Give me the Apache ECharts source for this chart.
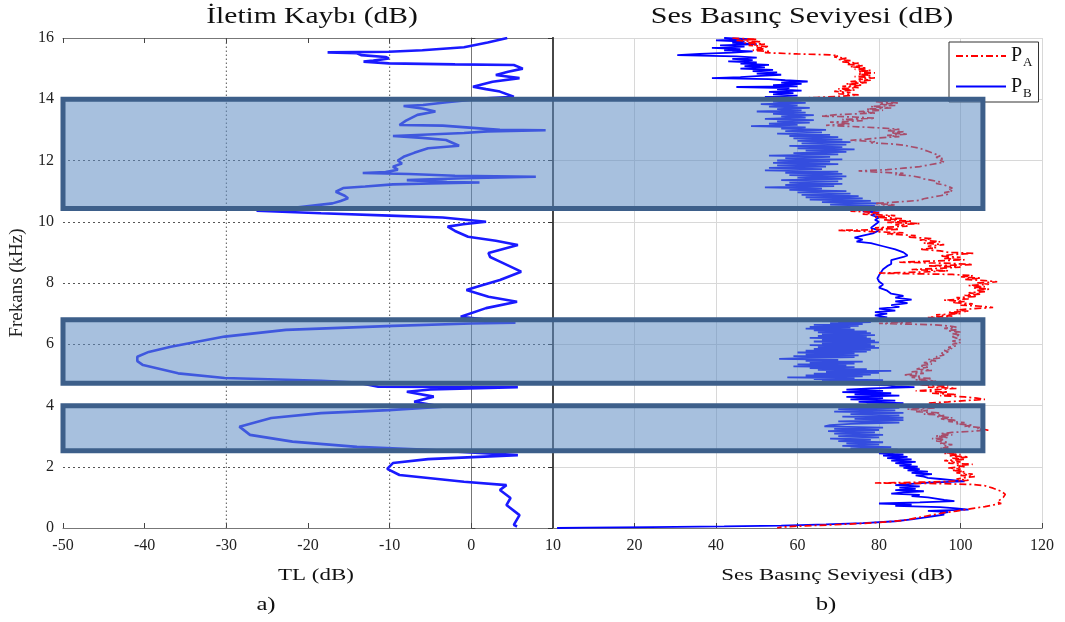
<!DOCTYPE html>
<html>
<head>
<meta charset="utf-8">
<script src="https://cdn.jsdelivr.net/npm/echarts@6/dist/echarts.min.js"></script>
<style>
html,body{margin:0;padding:0;background:#fff;}
#chart{width:1065px;height:622px;}
</style>
</head>
<body>
<div id="chart"></div>
<script>
// ---------------- DATA ----------------
const freqTicks = [0, 2, 4, 6, 8, 10, 12, 14, 16];          // kHz
const tlTicks = [-50, -40, -30, -20, -10, 0, 10];            // dB
const splTicks = [0, 20, 40, 60, 80, 100, 120];               // dB
const tlGridLines = [-30, -10];                               // dotted verticals in panel a
const bandRanges = [[10.43, 14.0], [4.73, 6.8], [2.52, 3.99]]; // highlighted frequency bands (kHz)
const bandRightDb = 105.5;                                    // right end of bands on SPL axis

// Transmission loss: [freq kHz, TL dB]
const tlCurve = [[16.0,4.4],[15.85,2.0],[15.7,-0.9],[15.6,-6],[15.55,-10.1],[15.53,-17.6],[15.5,-14],[15.44,-13.5],[15.38,-10.5],[15.33,-10.1],[15.26,-12],[15.23,-13.2],[15.17,-10.1],[15.14,-2],[15.12,5.2],[15.0,6.3],[14.9,4.5],[14.79,3.0],[14.69,5.9],[14.57,2.6],[14.41,0.2],[14.33,1.8],[14.25,3.5],[14.08,5.2],[14.02,1.3],[13.9,-3],[13.81,-5.9],[13.78,-8.3],[13.7,-6],[13.6,-4.4],[13.49,-6.6],[13.3,-8],[13.16,-8.8],[13.14,-3.5],[13.05,1],[13.0,3.5],[12.99,9.1],[12.95,2],[12.9,-0.9],[12.8,-9.6],[12.74,-6],[12.67,-3.1],[12.48,-1.5],[12.4,-5.3],[12.25,-7],[12.12,-8.3],[12.0,-9],[11.9,-8.5],[11.8,-9.6],[11.7,-9],[11.62,-10.5],[11.59,-13.3],[11.56,-7.6],[11.5,-2],[11.47,7.9],[11.42,-1],[11.36,-7.9],[11.3,-3],[11.28,1.0],[11.25,-5],[11.22,-9.6],[11.15,-13],[11.1,-15.7],[10.98,-16.6],[10.85,-15.5],[10.77,-15.1],[10.68,-16],[10.6,-17.0],[10.45,-22],[10.36,-26.3],[10.28,-18.4],[10.2,-10],[10.14,-3.5],[10.0,1.8],[9.92,-1],[9.84,-2.9],[9.7,-2],[9.51,-0.4],[9.38,3],[9.24,5.7],[8.98,2.1],[8.85,2.3],[8.7,3.5],[8.37,6.1],[8.1,3.5],[7.9,1],[7.77,-0.6],[7.55,2.1],[7.39,5.6],[7.18,1.8],[6.9,-1.3],[6.7,5.4],[6.68,0],[6.6,-9.6],[6.47,-22.7],[6.25,-30.2],[5.92,-36.8],[5.75,-39.5],[5.59,-40.9],[5.45,-40.9],[5.32,-40.2],[5.05,-35.9],[4.9,-30.2],[4.81,-18.4],[4.75,-14],[4.61,-11.4],[4.6,5.7],[4.52,-5],[4.45,-7.9],[4.29,-4.6],[4.12,-7.0],[3.96,-3.5],[3.85,-10.1],[3.75,-18.4],[3.59,-24.5],[3.31,-28.4],[3.04,-27.1],[2.82,-21.9],[2.65,-14.0],[2.55,-5.3],[2.38,5.7],[2.25,-5.3],[2.12,-9.6],[1.93,-10.3],[1.73,-8.8],[1.51,-0.9],[1.4,4.3],[1.24,3.5],[0.98,4.8],[0.75,4.3],[0.42,5.9],[0.1,5.2],[0.05,5.6]];

// P_B (blue): [freq kHz, SPL dB]
const pbCurve = [[16.0,42],[15.96,48],[15.92,40],[15.88,47],[15.84,44],[15.8,50],[15.76,41],[15.72,47],[15.68,39],[15.64,46],[15.6,42],[15.56,49],[15.52,44],[15.48,36],[15.44,30.5],[15.4,45],[15.36,50],[15.32,44],[15.28,49],[15.24,43],[15.2,50],[15.16,46],[15.12,53],[15.08,47],[15.04,52],[15.0,46],[14.96,54],[14.92,49],[14.88,55],[14.84,50],[14.8,56],[14.76,51],[14.72,46],[14.69,39],[14.66,53],[14.62,57],[14.58,62.5],[14.54,56],[14.5,61],[14.46,54],[14.42,60],[14.4,45],[14.36,58],[14.32,55],[14.28,61],[14.24,53],[14.2,59],[14.16,54],[14.12,60],[14.08,52],[14.04,57],
[14.0,52],[13.96,61],[13.92,54],[13.88,62],[13.84,51],[13.8,60],[13.76,53],[13.72,63],[13.68,55],[13.64,61],[13.6,50],[13.56,62],[13.52,54],[13.48,64],[13.44,56],[13.4,62],[13.36,52],[13.32,64],[13.28,55],[13.24,63],[13.2,53],[13.16,60],[13.12,48.6],[13.08,62],[13.04,56],[13.0,67],[12.96,57],[12.92,66],[12.88,55],[12.84,68],[12.8,58],[12.76,70],[12.72,59],[12.68,71],[12.64,60],[12.6,73],[12.56,61],[12.52,72],[12.48,58],[12.44,71],[12.4,60],[12.36,74],[12.32,62],[12.28,72],[12.24,59],[12.2,70],[12.16,53],[12.12,68],[12.08,57],[12.04,71],[12.0,55],[11.96,68],[11.92,54],[11.88,70],[11.84,55],[11.8,67],[11.76,53],[11.72,66],[11.68,52],[11.64,70],[11.6,57],[11.56,71],[11.52,58],[11.48,72],[11.44,60],[11.4,71],[11.36,56],[11.32,70],[11.28,58],[11.24,71],[11.2,57],[11.16,69],[11.12,52],[11.08,66],[11.04,58],[11.0,72],[10.96,60],[10.92,73],[10.88,61],[10.84,75],[10.8,62],[10.76,76],[10.72,63],[10.68,78],[10.64,66],[10.6,80],[10.56,68],[10.52,79],[10.48,72],
[10.42,78],[10.38,81],[10.34,76],[10.3,80],[10.22,78],[10.14,80],[10.06,79],[10.0,80],[9.9,79],[9.8,78],[9.72,80],[9.62,78.5],[9.55,76],[9.48,74],[9.42,76],[9.35,74.5],[9.3,78],[9.2,81],[9.1,84],[9.0,86],[8.9,87],[8.85,86],[8.75,83],[8.62,83],[8.55,82],[8.45,81],[8.35,80.5],[8.25,80],[8.15,79.6],[8.05,80],[7.95,81],[7.85,80],[7.75,82],[7.65,83],[7.58,86],[7.52,84],[7.46,88],[7.4,84],[7.34,87],[7.28,83],[7.22,85],[7.16,80],[7.1,84],[7.05,79],[7.0,82],[6.94,79],[6.88,82],[6.82,78],
[6.78,79],[6.75,70],[6.72,78],[6.69,68],[6.66,76],[6.63,64],[6.6,75],[6.57,63],[6.54,73],[6.51,62],[6.48,74],[6.45,64],[6.42,77],[6.39,65],[6.36,78],[6.33,66],[6.3,79],[6.27,65],[6.24,77],[6.21,63],[6.18,78],[6.15,66],[6.12,79],[6.09,64],[6.06,80],[6.03,66],[6.0,78],[5.97,63],[5.94,79],[5.91,65],[5.88,80],[5.85,64],[5.82,78],[5.79,62],[5.76,77],[5.73,60],[5.7,74],[5.67,62],[5.64,75],[5.61,59],[5.58,74],[5.55,61],[5.52,55.5],[5.49,70],[5.46,62],[5.43,76],[5.4,63],[5.37,74],[5.34,60],[5.31,72],[5.28,59],[5.25,74],[5.22,63],[5.19,77],[5.16,65],[5.13,83],[5.1,67],[5.07,80],[5.04,64],[5.01,78],[4.98,62],[4.95,76],[4.92,57.5],[4.89,74],[4.86,64],[4.83,81],[4.8,66],[4.77,78],
[4.74,79],[4.7,73],[4.66,82],[4.62,84],[4.6,88.7],[4.56,78],[4.52,72],[4.48,81],[4.44,71],[4.4,83],[4.36,74],[4.32,85],[4.28,72],[4.24,81],[4.2,73],[4.16,84],[4.12,75],[4.08,86],[4.04,77],
[4.0,83],[3.96,72],[3.92,85],[3.88,70],[3.84,84],[3.8,69],[3.76,86],[3.72,73],[3.68,85],[3.64,71],[3.6,86],[3.56,74],[3.52,86],[3.48,70],[3.44,85],[3.4,73],[3.36,68],[3.32,66.6],[3.28,81],[3.24,69],[3.2,80],[3.16,67.5],[3.12,79],[3.08,69],[3.04,81],[3.0,70],[2.96,80],[2.92,68],[2.88,78],[2.84,70],[2.8,81],[2.76,72],[2.72,80],[2.68,71],[2.64,83],[2.6,73],[2.56,84.6],[2.52,76],
[2.48,84],[2.44,80],[2.4,86],[2.36,81],[2.32,87],[2.28,82],[2.24,88],[2.2,83],[2.16,89],[2.12,84],[2.08,88],[2.04,85],[2.0,89.5],[1.96,86],[1.92,90],[1.88,87],[1.84,92],[1.8,88],[1.76,93],[1.72,89],[1.68,91],[1.64,92],[1.6,95],[1.56,98],[1.52,101],[1.48,92],[1.44,88],[1.4,84],[1.36,90],[1.32,85],[1.28,89],[1.24,84],[1.2,91],[1.16,86],[1.12,83],[1.08,90],[1.04,88],[1.0,92],[0.96,94],[0.92,96],[0.88,98.5],[0.84,90],[0.8,80],[0.76,88],[0.72,84],[0.68,95],[0.64,99],[0.6,102],[0.56,92],[0.52,97],[0.48,95],[0.44,96],[0.4,94],[0.34,91],[0.28,88],[0.22,84],[0.16,76],[0.12,67],[0.08,56],[0.05,42],[0.03,24],[0.01,8],[0.0,1]];

// P_A (red, dash-dot): [freq kHz, SPL dB]
const paCurve = [[16.0,44],[15.96,50],[15.92,45],[15.88,51],[15.84,47],[15.8,52],[15.76,48],[15.72,53],[15.68,50],[15.64,52],[15.6,49],[15.56,53],[15.52,52],[15.48,60],[15.45,68],[15.42,70],[15.38,69],[15.34,72],[15.3,70],[15.26,73],[15.22,71],[15.18,75],[15.14,72],[15.1,76],[15.06,73],[15.02,77],[14.98,74],[14.94,78],[14.9,75],[14.86,79],[14.82,75],[14.78,78],[14.74,74],[14.7,79],[14.66,75],[14.62,78],[14.58,73],[14.54,77],[14.5,72],[14.46,76],[14.42,71],[14.38,75],[14.34,70],[14.3,74],[14.26,69],[14.22,73],[14.18,70],[14.14,75],[14.1,71],[14.06,65],[14.03,59],
[14.0,79],[13.96,84],[13.92,79],[13.88,85],[13.84,80],[13.8,84],[13.76,78],[13.72,83],[13.68,77],[13.64,81],[13.6,75],[13.55,79],[13.5,70],[13.45,66],[13.42,74],[13.38,79],[13.34,71],[13.3,76],[13.25,68],[13.2,73],[13.15,67],[13.1,75],[13.06,81],[13.02,85],[12.98,82],[12.94,86],[12.9,83],[12.86,87],[12.82,82],[12.78,85],[12.74,80],[12.7,77],[12.66,73],[12.62,79],[12.58,78],[12.54,83],[12.5,86],[12.45,88],[12.4,90],[12.35,91],[12.3,92],[12.25,93],[12.2,94],[12.15,95],[12.1,94],[12.05,96],[12.0,95],[11.95,96],[11.9,94],[11.85,92],[11.8,90],[11.75,86],[11.7,82],[11.66,75],[11.62,80],[11.58,86],[11.54,84],[11.5,88],[11.45,90],[11.4,91],[11.35,93],[11.3,95],[11.25,94],[11.2,96],[11.15,97],[11.1,98],[11.05,97],[11.0,98],[10.95,96],[10.9,97],[10.85,95],[10.8,93],[10.75,91],[10.7,90],[10.65,85],[10.6,79],[10.55,84],[10.5,80],
[10.45,74],[10.4,78],[10.35,73],[10.3,80],[10.25,76],[10.2,84],[10.15,79],[10.1,86],[10.06,81],[10.02,88],[9.98,82],[9.94,90],[9.9,84],[9.86,87],[9.8,79],[9.75,85],[9.72,70],[9.68,78],[9.64,86],[9.6,82],[9.55,89],[9.5,87],[9.45,93],[9.4,90],[9.35,95],[9.3,91],[9.25,96],[9.2,92],[9.15,94],[9.1,90],[9.05,95],[9.0,97],[8.97,103.5],[8.93,98],[8.88,95],[8.84,100],[8.8,96],[8.76,101],[8.72,94],[8.68,85],[8.64,98],[8.6,103],[8.56,92],[8.52,100],[8.48,95],[8.44,88],[8.4,97],[8.36,91],[8.32,80],[8.28,98],[8.24,103],[8.2,100],[8.16,105],[8.12,101],[8.08,106],[8.04,109],[8.0,104],[7.96,107],[7.92,102],[7.88,106],[7.84,103],[7.8,107],[7.76,104],[7.72,106],[7.68,102],[7.64,105],[7.6,101],[7.56,104],[7.52,99],[7.48,102],[7.44,96],[7.4,101],[7.36,98],[7.32,103],[7.28,100],[7.24,105],[7.2,108],[7.16,103],[7.12,99],[7.08,102],[7.04,97],[7.0,100],[6.96,94],[6.92,98],[6.88,92],[6.84,97],
[6.8,90],[6.76,82],[6.72,88],[6.68,80],[6.64,93],[6.6,97],[6.56,99],[6.52,96],[6.48,99],[6.44,97],[6.4,100],[6.35,98],[6.3,100],[6.25,98],[6.2,99],[6.15,100],[6.1,98],[6.05,100],[6.0,98],[5.95,99],[5.9,97],[5.85,98],[5.8,96],[5.75,97],[5.7,95],[5.65,96],[5.6,94],[5.55,95],[5.5,92],[5.45,94],[5.4,91],[5.35,93],[5.3,90],[5.25,92],[5.2,89],[5.15,93],[5.1,88],[5.05,91],[5.0,86],[4.96,90],[4.92,88],[4.88,93],[4.84,89],[4.8,94],[4.76,90],
[4.72,95],[4.68,90],[4.64,97],[4.6,92],[4.56,99],[4.52,94],[4.48,89],[4.44,97],[4.4,93],[4.36,99],[4.32,95],[4.28,101],[4.24,104],[4.2,106],[4.16,101],[4.12,97],[4.08,92],[4.04,96],
[4.0,93],[3.96,89],[3.92,94],[3.88,87],[3.84,92],[3.8,89],[3.76,95],[3.72,91],[3.68,96],[3.64,94],[3.6,98],[3.56,95],[3.52,99],[3.48,97],[3.44,101],[3.4,99],[3.36,103],[3.32,101],[3.28,105],[3.24,104],[3.2,107],[3.16,103],[3.12,98],[3.08,95],[3.04,98],[3.0,94],[2.96,97],[2.92,93],[2.88,96],[2.84,94],[2.8,97],[2.76,95],[2.72,98],[2.68,96],[2.64,97],[2.6,95],[2.56,98],[2.52,96],
[2.48,99],[2.44,96],[2.4,100],[2.36,97],[2.32,102],[2.28,98],[2.24,101],[2.2,96],[2.16,100],[2.12,97],[2.08,103],[2.04,99],[2.0,101],[1.96,97],[1.92,100],[1.88,98],[1.84,101],[1.8,99],[1.76,103],[1.72,100],[1.68,103.5],[1.64,101],[1.6,99],[1.56,102],[1.52,97],[1.49,88],[1.47,79],[1.45,95],[1.42,103],[1.38,106],[1.34,107],[1.3,108],[1.25,109],[1.2,110],[1.15,110.5],[1.1,111],[1.05,111],[1.0,110.5],[0.95,110],[0.9,110],[0.85,109],[0.8,110],[0.75,108],[0.7,106],[0.65,103.5],[0.6,101],[0.55,99],[0.5,96],[0.45,94],[0.4,92],[0.35,90],[0.3,88],[0.25,86],[0.2,82],[0.15,76],[0.1,68],[0.06,60],[0.03,56],[0.0,55]];

// ---------------- CHART ----------------
const SERIF = '"Liberation Serif", "Times New Roman", serif';
const chart = echarts.init(document.getElementById('chart'), null, {renderer: 'canvas'});

const toXY = arr => arr.map(([f, v]) => [v, f]);
const bandFill = 'rgba(95,140,195,0.55)';
const bandStroke = '#3d5f8a';

function bandRenderer(side) {
  return function (params, api) {
    const lo = api.value(0), hi = api.value(1);
    const xa = side === 'left' ? tlTicks[0] : splTicks[0];
    const xb = side === 'left' ? tlTicks[tlTicks.length - 1] : bandRightDb;
    const pTL = api.coord([xa, hi]);
    const pBR = api.coord([xb, lo]);
    const children = [{
      type: 'rect',
      shape: {x: pTL[0], y: pTL[1], width: pBR[0] - pTL[0], height: pBR[1] - pTL[1]},
      style: {fill: bandFill}
    }];
    let pts;
    if (side === 'left') {
      pts = [[pBR[0], pTL[1]], [pTL[0], pTL[1]], [pTL[0], pBR[1]], [pBR[0], pBR[1]]];
    } else {
      pts = [[pTL[0], pTL[1]], [pBR[0], pTL[1]], [pBR[0], pBR[1]], [pTL[0], pBR[1]]];
    }
    children.push({
      type: 'polyline',
      shape: {points: pts},
      style: {stroke: bandStroke, lineWidth: 5, fill: null, lineJoin: 'miter'}
    });
    return {type: 'group', children};
  };
}

const tickLabel = {fontFamily: SERIF, fontSize: 16, color: '#222'};
function label(text, x, y, size, sx) {
  return {type: 'text', x: x, y: y, scaleX: sx, style: {text: text, font: size + 'px ' + SERIF, fill: '#111',
          align: 'center', verticalAlign: 'middle', textAlign: 'center', textVerticalAlign: 'middle'}};
}

const option = {
  animation: false,
  backgroundColor: '#fff',
  grid: [
    {left: 63, top: 38, width: 490, height: 490},
    {left: 553, top: 38, width: 489, height: 490}
  ],
  xAxis: [
    {gridIndex: 0, type: 'value', min: tlTicks[0], max: tlTicks[tlTicks.length-1], interval: 10, position: 'bottom',
     axisLine: {show: true, lineStyle: {color: '#777', width: 1}},
     axisTick: {show: true, inside: true, length: 5, lineStyle: {color: '#444'}},
     axisLabel: Object.assign({margin: 10}, tickLabel),
     splitLine: {show: false}},
    {gridIndex: 0, type: 'value', min: tlTicks[0], max: tlTicks[tlTicks.length-1], interval: 10, position: 'top',
     axisLine: {show: true, lineStyle: {color: '#777', width: 1}},
     axisTick: {show: true, inside: true, length: 5, lineStyle: {color: '#444'}},
     axisLabel: {show: false}, splitLine: {show: false}},
    {gridIndex: 1, type: 'value', min: splTicks[0], max: splTicks[splTicks.length-1], interval: 20, position: 'bottom',
     axisLine: {show: true, lineStyle: {color: '#777', width: 1}},
     axisTick: {show: true, inside: true, length: 5, lineStyle: {color: '#444'}},
     axisLabel: Object.assign({margin: 10, formatter: v => (v === 0 ? '' : String(v))}, tickLabel),
     splitLine: {show: true, lineStyle: {color: '#d8d8d8', width: 1}}},
    {gridIndex: 1, type: 'value', min: splTicks[0], max: splTicks[splTicks.length-1], interval: 20, position: 'top',
     axisLine: {show: true, lineStyle: {color: '#777', width: 1}},
     axisTick: {show: false}, axisLabel: {show: false}, splitLine: {show: false}}
  ],
  yAxis: [
    {gridIndex: 0, type: 'value', min: freqTicks[0], max: freqTicks[freqTicks.length-1], interval: 2, position: 'left',
     name: 'Frekans (kHz)', nameLocation: 'middle', nameGap: 36,
     nameTextStyle: {fontFamily: SERIF, fontSize: 19, color: '#222'},
     axisLine: {show: true, lineStyle: {color: '#777', width: 1}},
     axisTick: {show: true, inside: true, length: 4, lineStyle: {color: '#444'}},
     axisLabel: Object.assign({margin: 9}, tickLabel),
     splitLine: {show: true, lineStyle: {color: '#555', width: 1, type: [2, 3]}}},
    {gridIndex: 1, type: 'value', min: freqTicks[0], max: freqTicks[freqTicks.length-1], interval: 2, position: 'left',
     axisLine: {show: true, lineStyle: {color: '#222', width: 2}},
     axisTick: {show: false}, axisLabel: {show: false},
     splitLine: {show: true, lineStyle: {color: '#d8d8d8', width: 1}}},
    {gridIndex: 1, type: 'value', min: freqTicks[0], max: freqTicks[freqTicks.length-1], interval: 2, position: 'right',
     axisLine: {show: true, lineStyle: {color: '#555', width: 1.5}},
     axisTick: {show: true, inside: true, length: 5, lineStyle: {color: '#333'}},
     axisLabel: {show: false}, splitLine: {show: false}}
  ],
  legend: {
    data: ['PA', 'PB'], orient: 'vertical', left: 949, top: 42,
    itemWidth: 50, itemHeight: 12, itemGap: 7,
    backgroundColor: '#fff', borderColor: '#333', borderWidth: 1, borderRadius: 0,
    padding: [4, 6, 2, 6],
    itemStyle: {opacity: 0, borderWidth: 0},
    formatter: n => (n === 'PA' ? '{p|P}{s|A}' : '{p|P}{s|B}'),
    textStyle: {
      rich: {
        p: {fontFamily: SERIF, fontSize: 20, color: '#111'},
        s: {fontFamily: SERIF, fontSize: 13, color: '#111', padding: [14, 0, 0, 1]}
      }
    }
  },
  graphic: [
    label('İletim Kaybı (dB)', 312, 17, 24, 1.23),
    label('Ses Basınç Seviyesi (dB)', 802, 17, 24, 1.25),
    label('TL (dB)', 316, 576, 17, 1.35),
    label('Ses Basınç Seviyesi (dB)', 837, 576, 17, 1.35),
    label('a)', 266, 605, 19, 1.3),
    label('b)', 826, 605, 19, 1.3)
  ],
  series: [
    {
      name: 'tlGrid', type: 'custom', xAxisIndex: 0, yAxisIndex: 0, z: 1, silent: true,
      data: tlGridLines.map(v => [v]),
      renderItem: (params, api) => {
        const a = api.coord([api.value(0), freqTicks[0]]);
        const b = api.coord([api.value(0), freqTicks[freqTicks.length-1]]);
        return {type: 'line', shape: {x1: a[0], y1: a[1], x2: b[0], y2: b[1]},
                style: {stroke: '#555', lineWidth: 1, lineDash: [1.5, 2.5]}};
      }
    },
    {
      name: 'TL', type: 'line', xAxisIndex: 0, yAxisIndex: 0, z: 3,
      data: toXY(tlCurve), showSymbol: false, symbol: 'none', smooth: false,
      lineStyle: {color: '#1a1aff', width: 2.6}
    },
    {
      name: 'PB', type: 'line', xAxisIndex: 2, yAxisIndex: 1, z: 3,
      data: toXY(pbCurve), showSymbol: false, symbol: 'none',
      itemStyle: {color: '#0000ff'},
      lineStyle: {color: '#0000ff', width: 1.8}
    },
    {
      name: 'PA', type: 'line', xAxisIndex: 2, yAxisIndex: 1, z: 4,
      data: toXY(paCurve), showSymbol: false, symbol: 'none',
      itemStyle: {color: '#ff0000'},
      lineStyle: {color: '#ff0000', width: 1.7, type: [7, 3, 2, 3]}
    },
    {
      name: 'bandsLeft', type: 'custom', xAxisIndex: 0, yAxisIndex: 0, z: 10, silent: true, clip: false,
      data: bandRanges, renderItem: bandRenderer('left')
    },
    {
      name: 'bandsRight', type: 'custom', xAxisIndex: 2, yAxisIndex: 1, z: 10, silent: true, clip: false,
      data: bandRanges, renderItem: bandRenderer('right')
    }
  ]
};
chart.setOption(option);
</script>
</body>
</html>
